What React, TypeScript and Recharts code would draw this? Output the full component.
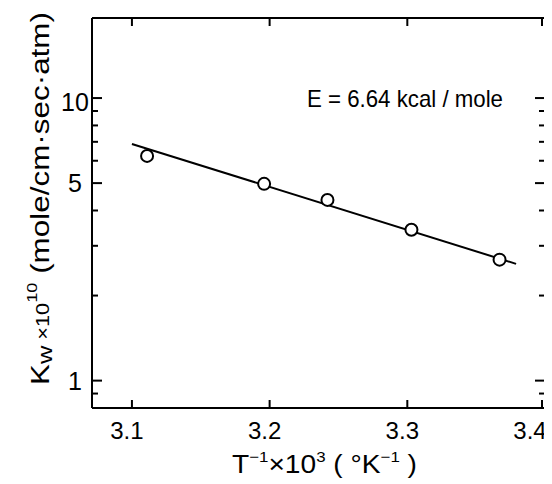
import React from 'react';
import { ComposedChart, XAxis, YAxis, Scatter, Line, Customized } from 'recharts';

const invT = [3.111, 3.196, 3.242, 3.303, 3.367];
const kw = [6.24, 4.97, 4.36, 3.42, 2.68];
const fitX = [3.1, 3.379];
const fitY = [6.88, 2.59];
const xTicks = [3.1, 3.2, 3.3, 3.4];
const yTicks = [0.9, 1, 2, 3, 4, 5, 6, 7, 8, 9, 10];
const yLabels = [1, 5, 10];

const points = invT.map((x, i) => ({ x, y: kw[i] }));
const fit = fitX.map((x, i) => ({ x, y: fitY[i] }));

const FONT = '"Liberation Sans", Arial, sans-serif';
const K = '#000';

const LeftTick = (p: any) => {
  const { x, y, payload } = p;
  const major = yLabels.includes(payload.value);
  const len = major ? 10 : 6;
  return (
    <g>
      <line x1={x} y1={y} x2={x + len} y2={y} stroke={K} strokeWidth={2} />
      {major && (
        <text x={x - 17} y={y + (payload.value === 10 ? 4 : 0)} textAnchor="middle" dominantBaseline="central" fontSize={25} fontFamily={FONT} fill={K}>
          {payload.value}
        </text>
      )}
    </g>
  );
};

const RightTick = (p: any) => {
  const { x, y, payload } = p;
  const major = yLabels.includes(payload.value);
  const len = major ? 10 : 6;
  return <line x1={x} y1={y} x2={x - len} y2={y} stroke={K} strokeWidth={2} />;
};

const BottomTick = (p: any) => {
  const { x, y, payload } = p;
  const last = payload.value >= 3.4;
  return (
    <g>
      <line x1={x} y1={y} x2={x} y2={y - 8} stroke={K} strokeWidth={2} />
      <text x={x - (last ? 12 : 5)} y={y + 31} textAnchor="middle" fontSize={24} fontFamily={FONT} fill={K}>
        {payload.value.toFixed(1)}
      </text>
    </g>
  );
};

const TopTick = (p: any) => {
  const { x, y } = p;
  return <line x1={x} y1={y} x2={x} y2={y + 8} stroke={K} strokeWidth={2} />;
};

const Texts = () => (
  <g fontFamily={FONT} fill={K}>
    <text x={299} y={99} fontSize={24} textLength={196} lengthAdjust="spacingAndGlyphs">
      E = 6.64 kcal / mole
    </text>
    <text x={224} y={465} fontSize={25} textLength={185} lengthAdjust="spacingAndGlyphs">
      T<tspan fontSize={15} dy={-11}>−1</tspan>
      <tspan dy={11}>×10</tspan>
      <tspan fontSize={15} dy={-11}>3</tspan>
      <tspan dy={11}> ( °K</tspan>
      <tspan fontSize={15} dy={-11}>−1</tspan>
      <tspan dy={11}> )</tspan>
    </text>
    <text
      transform="translate(41,377) rotate(-90)"
      x={0}
      y={0}
      fontSize={26}
      textLength={373}
      lengthAdjust="spacingAndGlyphs"
    >
      K<tspan fontSize={21} dy={3}>w</tspan>
      <tspan fontSize={18} dy={-3}> ×10</tspan>
      <tspan fontSize={15} dy={-12}>10</tspan>
      <tspan dy={12}> (mole/cm·sec·atm)</tspan>
    </text>
  </g>
);

export default function App() {
  return (
    <ComposedChart
      width={544}
      height={476}
      margin={{ top: 9, right: 6, bottom: 36, left: 24 }}
    >
      <XAxis
        xAxisId="b"
        dataKey="x"
        type="number"
        domain={[3.071, 3.4]}
        ticks={xTicks}
        allowDataOverflow
        orientation="bottom"
        height={40}
        tickSize={0}
        tickMargin={0}
        tick={<BottomTick />}
        axisLine={{ stroke: K, strokeWidth: 2 }}
        tickLine={false}
      />
      <XAxis
        xAxisId="t"
        dataKey="x"
        type="number"
        domain={[3.071, 3.4]}
        ticks={xTicks}
        allowDataOverflow
        orientation="top"
        height={1}
        tickSize={0}
        tickMargin={0}
        tick={<TopTick />}
        axisLine={{ stroke: K, strokeWidth: 2 }}
        tickLine={false}
      />
      <YAxis
        yAxisId="l"
        type="number"
        scale="log"
        domain={[0.8, 19.2]}
        ticks={yTicks}
        allowDataOverflow
        orientation="left"
        width={60}
        tickSize={0}
        tickMargin={0}
        tick={<LeftTick />}
        axisLine={{ stroke: K, strokeWidth: 2 }}
        tickLine={false}
        interval={0}
      />
      <YAxis
        yAxisId="r"
        type="number"
        scale="log"
        domain={[0.8, 19.2]}
        ticks={yTicks}
        allowDataOverflow
        orientation="right"
        width={1}
        tickSize={0}
        tickMargin={0}
        tick={<RightTick />}
        axisLine={{ stroke: K, strokeWidth: 2 }}
        tickLine={false}
        interval={0}
      />
      <Line
        xAxisId="b"
        yAxisId="l"
        data={fit}
        dataKey="y"
        stroke={K}
        strokeWidth={2}
        dot={false}
        isAnimationActive={false}
        type="linear"
      />
      <Scatter
        xAxisId="b"
        yAxisId="l"
        data={points}
        dataKey="y"
        isAnimationActive={false}
        shape={(p: any) => <circle cx={p.cx} cy={p.cy} r={6} fill="#fff" stroke={K} strokeWidth={2} />}
      />
      <Customized component={Texts} />
    </ComposedChart>
  );
}
